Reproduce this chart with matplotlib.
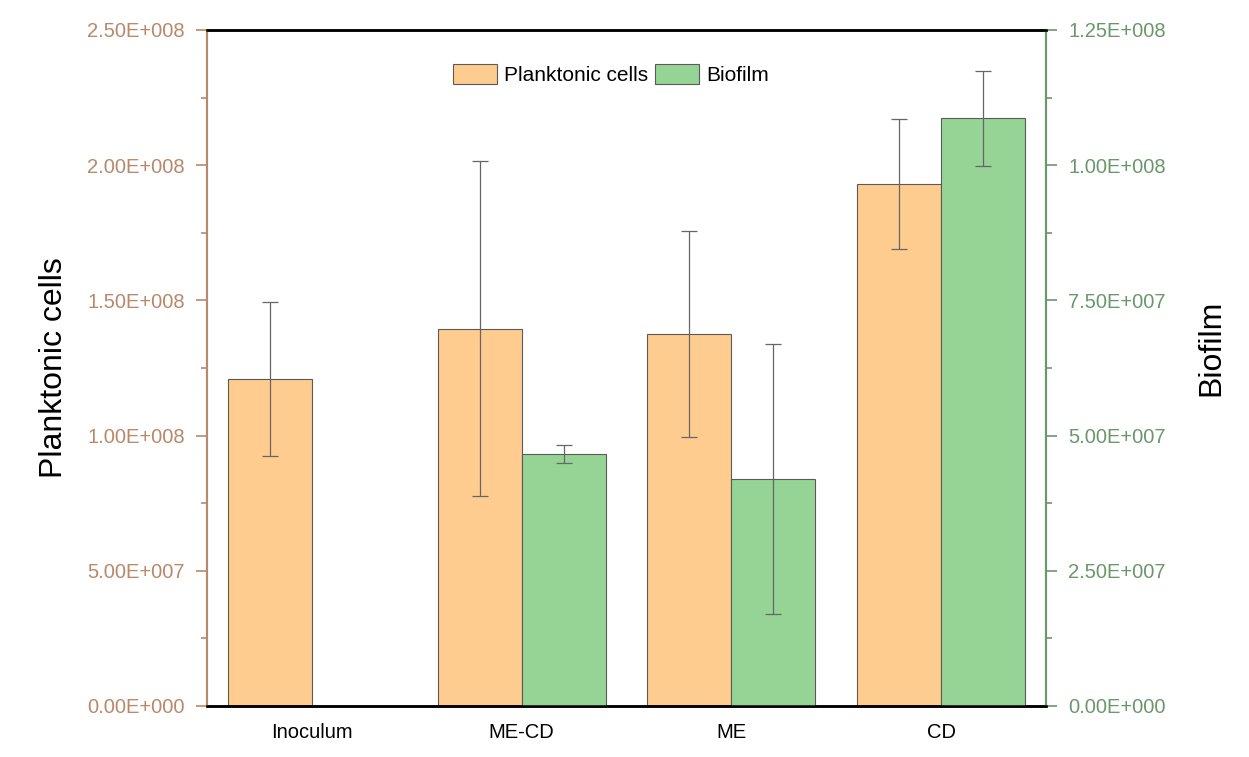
import matplotlib
matplotlib.use("Agg")
import matplotlib.pyplot as plt
import numpy as np
from matplotlib.ticker import MultipleLocator, FuncFormatter
from matplotlib.patches import Patch

plt.rcParams['font.family'] = ['Liberation Sans', 'DejaVu Sans']

categories = ["Inoculum", "ME-CD", "ME", "CD"]
planktonic = [1.21e8, 1.395e8, 1.375e8, 1.93e8]
planktonic_err = [0.285e8, 0.62e8, 0.38e8, 0.24e8]
biofilm = [np.nan, 4.66e7, 4.20e7, 1.087e8]
biofilm_err = [np.nan, 0.16e7, 2.5e7, 0.88e7]

c_plank = "#FFCC8F"
c_bio = "#96D496"
c_left = "#B8896A"
c_right = "#6A986A"
c_err = "#666666"
c_edge = "#5A5A5A"

fig = plt.figure(figsize=(12.49, 7.57), dpi=100)
ax = fig.add_axes([0.1657, 0.0674, 0.8375 - 0.1657, 0.9604 - 0.0674])
ax2 = ax.twinx()

x = np.arange(len(categories))
w = 0.4
ekw = dict(elinewidth=0.9, capsize=6, capthick=0.9)
ax.bar(x - w / 2, planktonic, w, color=c_plank, edgecolor=c_edge, linewidth=0.8,
       yerr=planktonic_err, ecolor=c_err, error_kw=ekw)
ax2.bar(x + w / 2, biofilm, w, color=c_bio, edgecolor=c_edge, linewidth=0.8,
        yerr=biofilm_err, ecolor=c_err, error_kw=ekw)

ax.set_xlim(-0.5, 3.5)
ax.set_ylim(0, 2.5e8)
ax2.set_ylim(0, 1.25e8)

def sci(v, pos):
    if v == 0:
        return "0.00E+000"
    e = int(np.floor(np.log10(abs(v))))
    m = v / 10 ** e
    return f"{m:.2f}E+{e:03d}"

ax.yaxis.set_major_locator(MultipleLocator(5e7))
ax.yaxis.set_minor_locator(MultipleLocator(2.5e7))
ax.yaxis.set_major_formatter(FuncFormatter(sci))
ax2.yaxis.set_major_locator(MultipleLocator(2.5e7))
ax2.yaxis.set_minor_locator(MultipleLocator(1.25e7))
ax2.yaxis.set_major_formatter(FuncFormatter(sci))

ax.set_xticks(x)
ax.set_xticklabels(categories, fontsize=14.5)
ax.tick_params(axis="x", length=0, pad=12)

ax.tick_params(axis="y", which="major", direction="out", length=8, width=1.2, pad=8,
               colors=c_left, labelsize=14.5, labelcolor=c_left)
ax.tick_params(axis="y", which="minor", direction="out", length=4, width=1.2, colors=c_left)
ax2.tick_params(axis="y", which="major", direction="out", length=8, width=1.2, pad=8,
                colors=c_right, labelsize=14.5, labelcolor=c_right)
ax2.tick_params(axis="y", which="minor", direction="out", length=4, width=1.2, colors=c_right)

for a in (ax, ax2):
    a.spines["top"].set_color("black")
    a.spines["top"].set_linewidth(1.8)
    a.spines["bottom"].set_color("black")
    a.spines["bottom"].set_linewidth(1.8)
    a.spines["left"].set_color(c_left)
    a.spines["left"].set_linewidth(1.5)
    a.spines["right"].set_color(c_right)
    a.spines["right"].set_linewidth(1.5)

ax.set_ylabel("Planktonic cells", fontsize=23, labelpad=13)
ax2.set_ylabel("Biofilm", fontsize=23)
ax2.yaxis.set_label_coords(1.179, 0.53)

handles = [Patch(facecolor=c_plank, edgecolor=c_edge, linewidth=0.8, label="Planktonic cells"),
           Patch(facecolor=c_bio, edgecolor=c_edge, linewidth=0.8, label="Biofilm")]
ax.legend(handles=handles, loc="upper center", bbox_to_anchor=(0.4815, 0.978), ncol=2,
          frameon=False, fontsize=15, handlelength=2.1, handleheight=1.1,
          handletextpad=0.35, columnspacing=0.3)

fig.savefig("out.png", dpi=100)
